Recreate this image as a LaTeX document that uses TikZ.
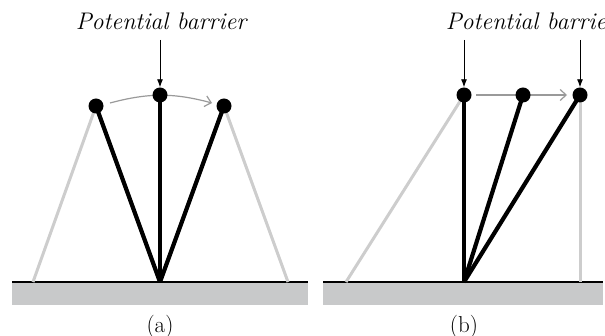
\documentclass[tikz,border=0pt]{standalone}
\usetikzlibrary{arrows.meta}
\begin{document}
\begin{tikzpicture}[x=1pt,y=-1pt,
  rod/.style={line width=4.2pt,black},
  ghost/.style={line width=3pt,ghostgray},
  ball/.style={circle,fill=black,inner sep=0pt,minimum size=15pt},
  down/.style={-{Latex[length=8pt,width=6pt]},line width=0.9pt},
  move/.style={-{Straight Barb[length=6pt,width=11pt]},line width=1.2pt,arrowgray},
  lbl/.style={font=\fontsize{24}{26}\selectfont\itshape,inner sep=0pt},
  captext/.style={font=\fontsize{23}{26}\selectfont,inner sep=0pt}]
\definecolor{groundgray}{HTML}{C8C9CA}
\definecolor{ghostgray}{HTML}{CDCDCD}
\definecolor{arrowgray}{HTML}{9A9A9A}
\useasboundingbox (0,0) rectangle (605,336);
\clip (0,0) rectangle (605,336);
% ---------- panel (a)
\fill[groundgray] (12,282) rectangle (308,305);
\draw[line width=1.5pt] (12,282) -- (308,282);
\coordinate (aB) at (160,282);
\coordinate (aL) at (96,106);
\coordinate (aC) at (160,95);
\coordinate (aR) at (224,106);
\coordinate (aLg) at (33,282);
\coordinate (aRg) at (288,282);
\coordinate (aS) at (110,103);
\coordinate (aE) at (212,103);
\draw[move] (aS) to[bend left=15] (aE);
\draw[ghost] (aLg) -- (aL);
\draw[ghost] (aRg) -- (aR);
\draw[rod] (aB) -- (aL);
\draw[rod] (aB) -- (aC);
\draw[rod] (aB) -- (aR);
\node[ball] (aLb) at (aL) {};
\node[ball] (aCb) at (aC) {};
\node[ball] (aRb) at (aR) {};
\node[lbl] (aT) at (161,21) {Potential barrier};
\draw[down] (160,40) -- (aCb.north);
\node[captext] (acap) at (160,327) {(a)};
% ---------- panel (b)
\fill[groundgray] (323,282) rectangle (603,305);
\draw[line width=1.5pt] (323,282) -- (603,282);
\coordinate (bB) at (464,282);
\coordinate (bL) at (464,95);
\coordinate (bM) at (523,95);
\coordinate (bR) at (580,95);
\coordinate (bLg) at (346,282);
\coordinate (bRg) at (580,282);
\draw[move] (476,95) -- (567,95);
\draw[ghost] (bLg) -- (bL);
\draw[ghost] (bRg) -- (bR);
\draw[rod] (bB) -- (bL);
\draw[rod] (bB) -- (bM);
\draw[rod] (bB) -- (bR);
\node[ball] (bLb) at (bL) {};
\node[ball] (bMb) at (bM) {};
\node[ball] (bRb) at (bR) {};
\node[lbl] (bT) at (531,21) {Potential barrier};
\draw[down] (464,40) -- (bLb.north);
\draw[down] (580,40) -- (bRb.north);
\node[captext] (bcap) at (464,327) {(b)};
\end{tikzpicture}
\end{document}
